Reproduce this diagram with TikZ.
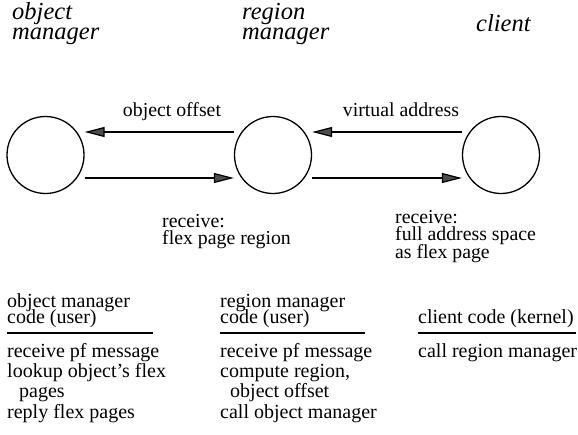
\documentclass[tikz,border=0pt]{standalone}
\usepackage{fontspec}
\setmainfont{Liberation Serif}
\usetikzlibrary{arrows.meta}
\newcommand\tightlines{\lineskiplimit=-30pt\relax}
\begin{document}
\begin{tikzpicture}[x=1pt,y=-1pt,
  proc/.style={circle, draw, line width=1.3pt, minimum size=77pt, inner sep=0pt},
  msg/.style={line width=1.2pt, -{Triangle[length=20pt,width=10pt,fill=black!70]}},
  title/.style={font={\itshape\fontsize{24.5}{20}\selectfont\tightlines}, anchor=base west, align=left, inner sep=0pt},
  lbl/.style={font={\fontsize{19.8}{17.5}\selectfont\tightlines}, anchor=base west, align=left, inner sep=0pt},
  cent/.style={font={\fontsize{19.8}{17.5}\selectfont}, anchor=base, inner sep=0pt},
  head/.style={font={\fontsize{20}{16}\selectfont\tightlines}, anchor=base west, align=left, inner sep=0pt},
  items/.style={font={\fontsize{20}{20.3}\selectfont\tightlines}, anchor=base west, align=left, inner sep=0pt},
  rulel/.style={line width=1.2pt}
]
\useasboundingbox (0,0) rectangle (578,434);

% titles (anchor = baseline of the last line)
\node[title] (tom) at (12,39) {object\\manager};
\node[title] (trm) at (242,39) {region\\manager};
\node[title] (tcl) at (476,31) {client};

% processes
\node[proc] (c1) at (45.5,155) {};
\node[proc] (c2) at (273,155) {};
\node[proc] (c3) at (501,155) {};

% messages
\draw[msg] ([yshift=23pt]c2.west) -- ([yshift=23pt]c1.east);
\draw[msg] ([yshift=-23pt]c1.east) -- ([yshift=-23pt]c2.west);
\draw[msg] ([yshift=23pt]c3.west) -- ([yshift=23pt]c2.east);
\draw[msg] ([yshift=-23pt]c2.east) -- ([yshift=-23pt]c3.west);

\node[cent] (loo) at (172,116) {object offset};
\node[cent] (lva) at (401,116) {virtual address};

\node[lbl] (rfp) at (162,244.5) {receive:\\flex page region};
\node[lbl] (rfa) at (395,258) {receive:\\full address space\\as flex page};

% code columns
\node[head] (h1) at (7,323) {object manager\\code (user)};
\node[head] (h2) at (220,323) {region manager\\code (user)};
\node[head] (h3) at (418,323) {client code (kernel)};

\draw[rulel] (7,333) -- (153,333);
\draw[rulel] (220,333) -- (365,333);
\draw[rulel] (418,333) -- (576,333);

\node[items] (i1) at (7,418) {receive pf message\\lookup object's flex\\\hspace*{12pt}pages\\reply flex pages};
\node[items] (i2) at (220,418) {receive pf message\\compute region,\\\hspace*{10pt}object offset\\call object manager};
\node[items] (i3) at (418,357) {call region manager};
\end{tikzpicture}
\end{document}
